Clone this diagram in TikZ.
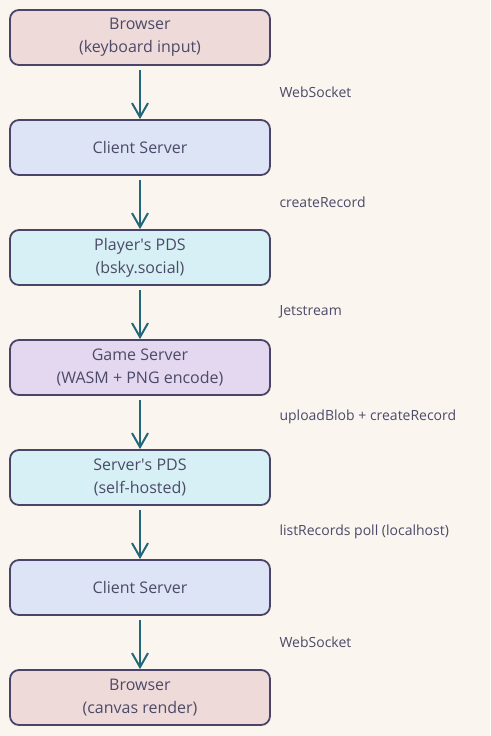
\documentclass[tikz,border=0pt]{standalone}
\usepackage{fontspec}
\setmainfont{Open Sans}
\usetikzlibrary{arrows.meta}
\definecolor{bgcream}{HTML}{FAF5EF}
\definecolor{edgeink}{HTML}{4A4568}
\definecolor{textink}{HTML}{4C4A68}
\definecolor{arrowteal}{HTML}{21687A}
\definecolor{fillrose}{HTML}{EFDADA}
\definecolor{fillsky}{HTML}{DCE4F5}
\definecolor{fillcyan}{HTML}{D6F0F5}
\definecolor{filllilac}{HTML}{E3D8EF}
\tikzset{
	stage/.style={draw=edgeink, line width=1.8pt, rounded corners=9pt,
		minimum width=260pt, minimum height=55pt, align=center,
		text=textink, font=\fontsize{16}{23}\selectfont},
	flow/.style={draw=arrowteal, line width=2pt,
		-{Straight Barb[length=14pt,width=16pt,line width=2pt]}},
	hop/.style={anchor=west, text=textink, font=\fontsize{14}{16}\selectfont}
}

\begin{document}
\begin{tikzpicture}[x=1pt, y=-1pt]
		%%%%% START %%%%%
		
		\fill[bgcream] (0, 0) rectangle (490, 736);
		\useasboundingbox (0, 0) rectangle (490, 736);
		
		\node[stage, fill=fillrose] (browserin) at (140, 37.5) {Browser\\(keyboard input)};
		\node[stage, fill=fillsky] (clientin) at (140, 147.5) {Client Server};
		\node[stage, fill=fillcyan] (playerpds) at (140, 257.5) {Player\textquotesingle s PDS\\(bsky.social)};
		\node[stage, fill=filllilac] (game) at (140, 367.5) {Game Server\\(WASM + PNG encode)};
		\node[stage, fill=fillcyan] (serverpds) at (140, 477.5) {Server\textquotesingle s PDS\\(self-hosted)};
		\node[stage, fill=fillsky] (clientout) at (140, 587.5) {Client Server};
		\node[stage, fill=fillrose] (browserout) at (140, 697.5) {Browser\\(canvas render)};
		
		\draw[flow] (browserin.south) ++(0, 4) -- (clientin.north);
		\draw[flow] (clientin.south) ++(0, 4) -- (playerpds.north);
		\draw[flow] (playerpds.south) ++(0, 4) -- (game.north);
		\draw[flow] (game.south) ++(0, 4) -- (serverpds.north);
		\draw[flow] (serverpds.south) ++(0, 4) -- (clientout.north);
		\draw[flow] (clientout.south) ++(0, 4) -- (browserout.north);
		
		\node[hop] (ws1) at (276, 92) {WebSocket};
		\node[hop] (create) at (276, 202) {createRecord};
		\node[hop] (jet) at (276, 312) {Jetstream};
		\node[hop] (upload) at (276, 417) {uploadBlob + createRecord};
		\node[hop] (poll) at (276, 532) {listRecords poll (localhost)};
		\node[hop] (ws2) at (276, 642) {WebSocket};
		
		%%%%% END %%%%%
	\end{tikzpicture}
\end{document}
